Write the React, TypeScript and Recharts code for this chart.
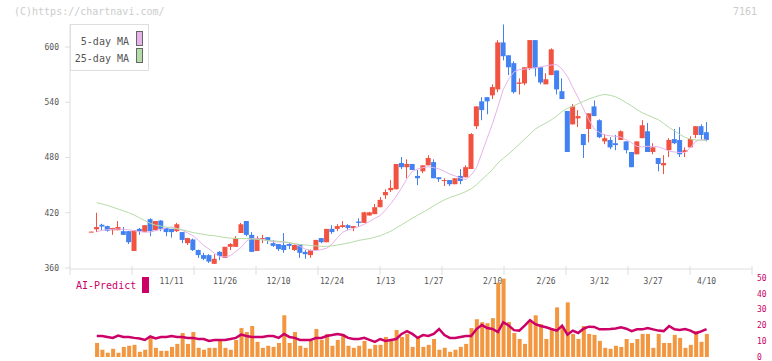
import React from 'react';
import { ComposedChart, Bar, Line, XAxis, YAxis, Legend } from 'recharts';

// daily candles, oldest first (index 0 .. 115)
const opens = [
  399, 402, 407, 405.5, 401, 401, 400, 400, 378.5, 402.5,
  399, 413, 401, 411.5, 403.5, 402.5, 400, 399, 387, 391,
  379.5, 374, 374, 364.5, 377.5, 371, 383, 383, 398, 411,
  396, 378.5, 391.5, 393.5, 387, 386, 385, 386, 379.5, 386,
  377.5, 374, 379.5, 392.5, 388, 402.5, 402.5, 404.5, 406.5, 403.5,
  410.5, 409, 417, 418.5, 426, 439, 444.5, 445.5, 474, 469.5,
  473, 460, 465, 471.5, 475, 458.5, 454.5, 455.5, 451, 460,
  458.5, 467.5, 514, 541, 545.5, 547.5, 554, 605, 591, 582.5,
  560, 560.5, 577, 607.5, 578, 559.5, 569.5, 574.5, 552, 530.5,
  516, 522.5, 505.5, 511, 535.5, 520.5, 497.5, 499, 495.5, 499,
  497.5, 486, 483.5, 501, 508.5, 486, 479.5, 471.5, 488, 500,
  499, 486, 491, 504.5, 514, 507.5,
];
const highs = [
  399.5, 420, 408, 406, 403.5, 411, 404.5, 400, 401, 403.5,
  406.5, 414, 411, 412, 403.5, 402.5, 409, 399, 392.5, 392,
  380, 376.5, 375, 375, 378.5, 383, 387, 394.5, 409, 411,
  399, 394.5, 396, 393.5, 390.5, 386, 398, 387, 385.5, 386,
  379.5, 380, 390.5, 392.5, 402.5, 406.5, 407.5, 411, 407.5, 405.5,
  414, 421, 421, 429.5, 437, 445.5, 455.5, 473, 480.5, 478,
  473, 466.5, 471.5, 482.5, 478, 458.5, 457.5, 455.5, 457.5, 467.5,
  471.5, 506.5, 535.5, 545.5, 545.5, 559.5, 607.5, 624.5, 591, 584.5,
  566, 578, 607.5, 607.5, 578, 571.5, 598.5, 574.5, 566, 530.5,
  538, 531.5, 505.5, 528, 542, 521.5, 505.5, 502, 504.5, 509.5,
  497.5, 486, 497.5, 520.5, 517.5, 495.5, 479.5, 482.5, 501, 511,
  513, 491, 503, 514, 516, 518.5,
];
const lows = [
  399, 399, 401, 399.5, 396, 401, 396, 386, 378.5, 396,
  399, 394.5, 401, 400, 394.5, 393, 399, 387, 385, 378.5,
  371, 368.5, 365.5, 364.5, 368.5, 371, 379.5, 383, 398, 394.5,
  377.5, 378.5, 387, 386, 383, 378.5, 376.5, 380.5, 378.5, 371,
  370, 371, 379.5, 387, 388, 397, 400, 403.5, 401, 400,
  404.5, 409, 417, 418.5, 426, 435, 442.5, 445.5, 467.5, 457.5,
  466.5, 450, 463, 471.5, 457.5, 453.5, 449, 449, 451, 451,
  458.5, 467.5, 511, 520.5, 527, 543.5, 551, 585.5, 569.5, 549.5,
  548.5, 558.5, 575, 568, 559.5, 559.5, 569.5, 548.5, 543.5, 486,
  516, 513, 479.5, 496.5, 525, 501, 494.5, 489, 488, 499,
  484.5, 469.5, 483.5, 501, 486, 483.5, 465, 462, 480.5, 494.5,
  480.5, 480.5, 491, 501, 499, 497.5,
];
const closes = [
  399.5, 404.5, 405, 400.5, 403.5, 404.5, 396, 388, 401, 400,
  406.5, 400, 411, 402.5, 399, 399, 407.5, 390.5, 392.5, 379.5,
  374, 370, 367, 370, 373, 383, 386, 392.5, 407.5, 396,
  377.5, 392.5, 392.5, 389.5, 384, 380.5, 379.5, 384, 385, 376.5,
  375, 379.5, 390.5, 388, 402.5, 399, 405.5, 406.5, 403.5, 405.5,
  409, 420.5, 420.5, 426, 434, 442.5, 447, 473, 469.5, 473,
  466.5, 457.5, 471.5, 479.5, 457.5, 456.5, 455.5, 451, 457.5, 454.5,
  469.5, 505.5, 535.5, 531.5, 541, 556.5, 605, 590, 578, 551,
  561.5, 578, 607.5, 577, 561.5, 565, 597.5, 554, 543.5, 486,
  535.5, 525, 493.5, 528, 525, 502, 501, 491, 493.5, 508.5,
  488, 469.5, 497.5, 515, 486, 491, 473, 474, 499, 495.5,
  483.5, 488, 500, 514, 504.5, 499,
];
const ma5 = [
  null, 399.5, 400.8, 401.6, 402, 402.3, 402, 401.5, 400.5, 399.5,
  399, 399, 400.5, 402, 403.5, 404.5, 403, 401, 398, 395,
  390, 384.5, 380.5, 376, 372.5, 372, 373.5, 378, 382.5, 389.5,
  392, 392, 391, 389.5, 388.5, 388.2, 388.2, 387.5, 386, 383.5,
  380.5, 379, 379, 380, 381.5, 386, 393, 399, 401.5, 403,
  405, 407.5, 410.5, 414, 417, 423, 430, 438, 447, 457,
  465, 467.5, 469, 470, 469, 467.5, 465, 462, 460, 457.5,
  456, 461, 469, 485, 501, 517, 535, 554, 565, 573,
  575.5, 576, 576.6, 577.5, 578.5, 579.5, 580.5, 581, 576, 568,
  556, 545, 533, 521, 511, 507, 504.5, 503.5, 503, 502,
  499, 496, 492, 491.5, 492.2, 492, 491.6, 489.5, 487, 486,
  485.4, 485.4, 491, 497.5, 499.5, 499,
];
const ma25 = [
  null, 431, 429.5, 428, 426, 424, 422, 420, 417.5, 414.5,
  411.5, 408.5, 406.5, 405.5, 404.5, 403.5, 402.5, 401.5, 400, 398.5,
  397.5, 396.5, 395.5, 395, 394, 393, 392.5, 392, 392, 392,
  391.5, 391, 390.5, 390, 389.5, 389, 388.5, 387.5, 386.5, 385.5,
  385, 384.5, 384, 383.5, 383.5, 384, 385, 386, 387, 388.5,
  390, 391, 392, 393.5, 395, 397.5, 400, 403.5, 407, 410.5,
  414, 417.5, 420.5, 424, 427.5, 431, 434, 436.5, 438.5, 440.5,
  443, 446, 450.5, 456, 461.5, 467, 474, 479, 484, 489,
  494.5, 500, 505.5, 511, 514.5, 517.5, 521, 525, 530, 533.5,
  535.5, 538.5, 541, 543.5, 545.5, 547.5, 548.5, 547.5, 546, 543,
  539.5, 536, 532, 528.5, 526, 523.5, 521, 517, 512.5, 509,
  505, 502, 500, 499, 498.8, 498.5,
];
const volume = [
  null, 8.9, 4.6, 2.7, 5.2, 2.7, 6.4, 7.1, 7.7, 3.3,
  4.6, 12.1, 5.8, 3.9, 3.9, 6.4, 8.3, 15.2, 8.3, 15.8,
  5.8, 4.6, 5.8, 5.8, 10.2, 5.8, 4.6, 10.8, 18.3, 15.8,
  19.6, 9.6, 5.8, 7.1, 6.4, 8.9, 26.4, 8.9, 15.8, 7.1,
  5.8, 10.2, 17.7, 10.8, 14.6, 7.1, 10.8, 14.6, 7.1, 5.8,
  7.1, 10.2, 5.2, 7.7, 7.7, 12.7, 10.2, 17.1, 12.7, 14.6,
  6.4, 12.7, 6.4, 7.7, 11.4, 4.6, 5.8, 3.3, 4.6, 6.4,
  8.3, 18.3, 23.9, 22, 21.4, 24.6, 47, 49.6, 22.1, 15.2,
  11.4, 8.3, 22.1, 26.4, 20.8, 11.4, 17.1, 31.4, 19.6, 34.6,
  14.6, 11.4, 19.6, 14.6, 14, 10.2, 5.8, 5.2, 7.1, 6.4,
  11.4, 8.9, 11.4, 14.6, 14.6, 5.8, 14.6, 8.9, 8.9, 14,
  12.1, 5.8, 7.7, 16.4, 9.6, 14.6,
];
const aiPredict = [
  null, 13.3, 13.3, 12.7, 12.1, 13.6, 12.7, 12.7, 12.1, 11.7,
  10.8, 13, 11.7, 12.7, 12.7, 13.3, 12.7, 12.7, 12.1, 12.1,
  11.4, 11.4, 10.2, 10.8, 10.8, 10.8, 11.4, 12.1, 14.2, 13.3,
  12.7, 12.7, 12.7, 13.3, 13.3, 12.1, 14.6, 12.7, 12.1, 10.8,
  10.8, 10.8, 12.1, 12.1, 13.3, 13.9, 14.6, 13.9, 12.1, 11.4,
  11.4, 12.1, 10.8, 9.6, 11.4, 10.2, 10.8, 11.4, 14.6, 16.4,
  14.6, 12.1, 13.9, 13.3, 14.6, 17.7, 13.9, 12.1, 12.1, 12.7,
  13.3, 13.3, 17.7, 20.2, 18.3, 17.7, 15.8, 22, 20, 17,
  16.7, 19.8, 23.3, 20.8, 19.6, 18.8, 17.7, 16.7, 19.8, 14.1,
  16.7, 15.2, 17.9, 19.2, 19, 17.5, 17.5, 17.7, 18.1, 18.8,
  17.9, 16.4, 17.5, 17.5, 18.3, 17.5, 16.7, 16.4, 19.6, 17.5,
  17.1, 17.7, 16.7, 15, 16.2, 17.7,
];

const dateTickIndex = [15, 25, 35, 45, 55, 64, 75, 85, 95, 105, 115];
const dateTickLabels = ['11/11', '11/26', '12/10', '12/24', '1/13', '1/27', '2/10', '2/26', '3/12', '3/27', '4/10'];
const priceTicks = [360, 420, 480, 540, 600];
const aiTicks = [0, 10, 20, 30, 40, 50];

const FONT = '"DejaVu Sans Mono", monospace';
const UP = '#f15340';
const DOWN = '#4281f2';
const AXIS = '#dedede';
const LABEL = '#555';
const MA5 = '#e6b3ea';
const MA25 = '#b5dca6';
const VOL = '#f29640';
const AI = '#cc0066';
const X_DOMAIN: [number, number] = [-4, 123.5];

// the bottom axis carries 11 equal divisions, independent of the dates
const GRID_DIVS = 11;
const gridTicks = Array.from({ length: GRID_DIVS + 1 }, (_, k) => X_DOMAIN[0] + ((X_DOMAIN[1] - X_DOMAIN[0]) * k) / GRID_DIVS);

const rows = opens.map((o, i) => ({
  i,
  open: o,
  high: highs[i],
  low: lows[i],
  close: closes[i],
  range: [lows[i], highs[i]],
  ma5: ma5[i],
  ma25: ma25[i],
  volume: volume[i],
  ai: aiPredict[i],
}));

const Candle = (props: any) => {
  const { x, width, payload } = props;
  let { y, height } = props;
  if (!payload) return null;
  if (height < 0) {
    y = y + height;
    height = -height;
  }
  const { open, close, high, low } = payload;
  const color = close >= open ? UP : DOWN;
  const k = high > low ? height / (high - low) : 0;
  const py = (v: number) => y + (high - v) * k;
  const top = py(Math.max(open, close));
  const bottom = py(Math.min(open, close));
  const cx = Math.floor(x + width / 2) + 0.5;
  return (
    <g>
      <line x1={cx} x2={cx} y1={y} y2={y + height} stroke={color} strokeWidth={1} />
      <rect x={x} y={top} width={width} height={Math.max(1, bottom - top)} fill={color} />
    </g>
  );
};

// grid marks that cross the bottom axis line
const GridTick = (props: any) => (
  <line x1={props.x} x2={props.x} y1={props.y - 3} y2={props.y + 6} stroke={AXIS} />
);

const MaLegend = () => (
  <div
    style={{
      position: 'relative',
      width: 79,
      height: 47,
      boxSizing: 'border-box',
      border: `1px solid ${AXIS}`,
      background: '#fff',
      fontFamily: FONT,
      fontSize: 10,
      lineHeight: '12px',
      color: LABEL,
    }}
  >
    <span style={{ position: 'absolute', right: 19, top: 11 }}>5-day MA</span>
    <span style={{ position: 'absolute', right: 19, top: 28 }}>25-day MA</span>
    <span style={{ position: 'absolute', left: 65, top: 6, width: 5, height: 13, background: MA5, border: '1px solid #666' }} />
    <span style={{ position: 'absolute', left: 65, top: 23, width: 5, height: 13, background: MA25, border: '1px solid #666' }} />
  </div>
);

const AiLegend = () => (
  <div style={{ position: 'relative', width: 74, height: 16, fontFamily: FONT, fontSize: 10, lineHeight: '12px', color: AI }}>
    <span style={{ position: 'absolute', left: 0, top: 3 }}>AI-Predict</span>
    <span style={{ position: 'absolute', left: 66, top: 0, width: 7, height: 16, background: AI }} />
  </div>
);

export default function App() {
  return (
    <div style={{ position: 'absolute', left: 0, top: 0, width: 772, height: 361, background: '#fff', overflow: 'hidden' }}>
      <div style={{ position: 'absolute', left: 14, top: 6, fontFamily: FONT, fontSize: 10, lineHeight: '12px', color: '#cccccc' }}>
        (C)https://chartnavi.com/
      </div>
      <div style={{ position: 'absolute', right: 15, top: 6, fontFamily: FONT, fontSize: 10, lineHeight: '12px', color: '#cccccc' }}>
        7161
      </div>

      <div style={{ position: 'absolute', left: 0, top: 0 }}>
        <ComposedChart width={772} height={300} data={rows} margin={{ top: 24, right: 20, bottom: 30, left: 0 }}>
          <XAxis
            xAxisId="g"
            dataKey="i"
            type="number"
            domain={X_DOMAIN}
            ticks={gridTicks}
            allowDataOverflow
            height={1}
            stroke={AXIS}
            tickLine={false}
            tickSize={0}
            tickMargin={0}
            tick={GridTick}
            interval={0}
          />
          <XAxis
            xAxisId="c"
            dataKey="i"
            type="number"
            domain={X_DOMAIN}
            allowDataOverflow
            ticks={dateTickIndex}
            tickFormatter={(v: number) => dateTickLabels[dateTickIndex.indexOf(v)] ?? ''}
            interval={0}
            height={1}
            axisLine={false}
            tickLine={false}
            tickSize={0}
            tickMargin={10}
            tick={{ fontSize: 8, fill: LABEL, fontFamily: FONT }}
          />
          <YAxis
            domain={[360, 625]}
            ticks={priceTicks}
            allowDataOverflow
            interval={0}
            width={70}
            stroke={AXIS}
            tickSize={5}
            tickMargin={6}
            tick={{ fontSize: 8, fill: LABEL, fontFamily: FONT }}
          />
          <Bar xAxisId="c" dataKey="range" barSize={5} shape={Candle} isAnimationActive={false} />
          <Line xAxisId="c" dataKey="ma5" stroke={MA5} strokeWidth={1} dot={false} activeDot={false} isAnimationActive={false} />
          <Line xAxisId="c" dataKey="ma25" stroke={MA25} strokeWidth={1} dot={false} activeDot={false} isAnimationActive={false} />
          <Legend
            layout="horizontal"
            verticalAlign="middle"
            align="center"
            content={MaLegend}
            wrapperStyle={{ position: 'absolute', left: 70, top: 24, width: 79, height: 47 }}
          />
        </ComposedChart>
      </div>

      <div style={{ position: 'absolute', left: 0, top: 270 }}>
        <ComposedChart width={772} height={91} data={rows} margin={{ top: 8, right: 0, bottom: 4, left: 70 }}>
          <XAxis dataKey="i" type="number" domain={X_DOMAIN} allowDataOverflow hide height={0} />
          <YAxis
            orientation="right"
            domain={[0, 50]}
            ticks={aiTicks}
            allowDataOverflow
            interval={0}
            width={20}
            axisLine={false}
            tickLine={false}
            tickSize={0}
            tickMargin={5}
            tick={{ fontSize: 8, fill: AI, fontFamily: FONT }}
          />
          <Bar dataKey="volume" barSize={4} fill={VOL} isAnimationActive={false} />
          <Line dataKey="ai" stroke={AI} strokeWidth={2.5} dot={false} activeDot={false} isAnimationActive={false} />
          <Legend
            layout="horizontal"
            verticalAlign="middle"
            align="center"
            content={AiLegend}
            wrapperStyle={{ position: 'absolute', left: 76, top: 7, width: 74, height: 16 }}
          />
        </ComposedChart>
      </div>
    </div>
  );
}
